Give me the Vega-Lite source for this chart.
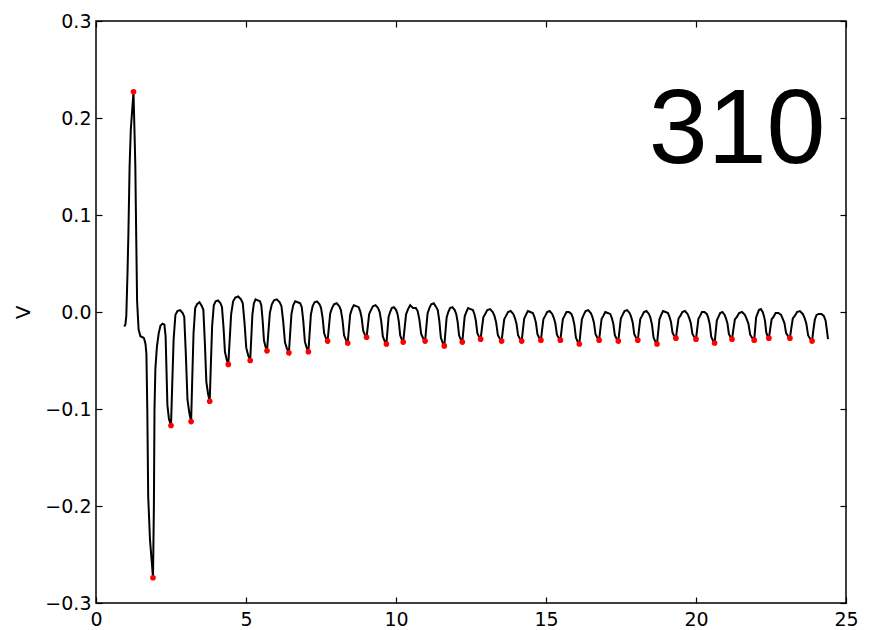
{
  "$schema": "https://vega.github.io/schema/vega-lite/v6.json",
  "width": 750,
  "height": 582,
  "autosize": {"type": "none"},
  "padding": {"left": 96, "top": 21, "right": 48, "bottom": 27},
  "background": "white",
  "config": {
    "view": {"stroke": "#000000", "strokeWidth": 1.5},
    "font": "DejaVu Sans",
    "axis": {
      "grid": false,
      "domain": false,
      "ticks": true,
      "tickColor": "#000000",
      "tickSize": -6,
      "tickWidth": 1.2,
      "labelFont": "DejaVu Sans",
      "labelFontSize": 19,
      "labelColor": "#000000",
      "titleFont": "DejaVu Sans",
      "titleFontSize": 20,
      "titleFontWeight": "normal",
      "titleColor": "#000000"
    }
  },
  "datasets": {
    "wave": [
      {"t":0.94,"v":-0.015},{"t":0.98,"v":-0.013},{"t":1.01,"v":-0.004},{"t":1.05,"v":0.04},{"t":1.08,"v":0.081},{"t":1.12,"v":0.15},{"t":1.16,"v":0.188},{"t":1.21,"v":0.21},{"t":1.25,"v":0.227},{"t":1.28,"v":0.19},{"t":1.31,"v":0.152},{"t":1.34,"v":0.08},{"t":1.37,"v":0.011},{"t":1.42,"v":-0.018},{"t":1.48,"v":-0.025},{"t":1.55,"v":-0.026},{"t":1.60,"v":-0.027},{"t":1.65,"v":-0.033},{"t":1.68,"v":-0.043},{"t":1.71,"v":-0.1},{"t":1.74,"v":-0.19},{"t":1.80,"v":-0.235},{"t":1.86,"v":-0.258},{"t":1.90,"v":-0.274},{"t":1.93,"v":-0.2},{"t":1.95,"v":-0.1},{"t":1.98,"v":-0.058},{"t":2.03,"v":-0.036},{"t":2.09,"v":-0.022},{"t":2.15,"v":-0.014},{"t":2.22,"v":-0.012},{"t":2.28,"v":-0.013},{"t":2.32,"v":-0.025},{"t":2.35,"v":-0.06},{"t":2.38,"v":-0.096},{"t":2.43,"v":-0.11},{"t":2.47,"v":-0.114},
      {"t":2.50,"v":-0.117},{"t":2.54,"v":-0.0757},{"t":2.587,"v":-0.0285},{"t":2.647,"v":-0.003},{"t":2.714,"v":0.001},{"t":2.802,"v":0.002},{"t":2.889,"v":-0.001},{"t":2.942,"v":-0.005},{"t":2.996,"v":-0.0446},{"t":3.049,"v":-0.0902},{"t":3.11,"v":-0.1039},
      {"t":3.17,"v":-0.113},{"t":3.207,"v":-0.0706},{"t":3.251,"v":-0.0222},{"t":3.306,"v":0.004},{"t":3.368,"v":0.008},{"t":3.449,"v":0.010},{"t":3.530,"v":0.006},{"t":3.579,"v":0.002},{"t":3.629,"v":-0.032},{"t":3.678,"v":-0.072},{"t":3.734,"v":-0.084},
      {"t":3.79,"v":-0.092},{"t":3.827,"v":-0.056},{"t":3.871,"v":-0.0147},{"t":3.926,"v":0.007},{"t":3.988,"v":0.011},{"t":4.069,"v":0.012},{"t":4.150,"v":0.009},{"t":4.199,"v":0.005},{"t":4.249,"v":-0.015},{"t":4.298,"v":-0.041},{"t":4.354,"v":-0.0488},
      {"t":4.41,"v":-0.054},{"t":4.454,"v":-0.0298},{"t":4.505,"v":-0.0022},{"t":4.571,"v":0.011},{"t":4.644,"v":0.015},{"t":4.739,"v":0.016},{"t":4.833,"v":0.013},{"t":4.892,"v":0.009},{"t":4.950,"v":-0.011},{"t":5.009,"v":-0.037},{"t":5.074,"v":-0.0448},
      {"t":5.14,"v":-0.050},{"t":5.174,"v":-0.028},{"t":5.213,"v":-0.0027},{"t":5.263,"v":0.009},{"t":5.319,"v":0.013},{"t":5.392,"v":0.012},{"t":5.465,"v":0.011},{"t":5.510,"v":0.007},{"t":5.554,"v":-0.0082},{"t":5.599,"v":-0.0294},{"t":5.650,"v":-0.0358},
      {"t":5.70,"v":-0.040},{"t":5.744,"v":-0.0218},{"t":5.795,"v":-0.001},{"t":5.861,"v":0.008},{"t":5.934,"v":0.012},{"t":6.029,"v":0.013},{"t":6.123,"v":0.010},{"t":6.182,"v":0.006},{"t":6.240,"v":-0.0096},{"t":6.299,"v":-0.0312},{"t":6.364,"v":-0.0377},
      {"t":6.43,"v":-0.042},{"t":6.469,"v":-0.0234},{"t":6.515,"v":-0.0022},{"t":6.573,"v":0.007},{"t":6.638,"v":0.011},{"t":6.723,"v":0.010},{"t":6.807,"v":0.009},{"t":6.859,"v":0.005},{"t":6.911,"v":-0.0098},{"t":6.963,"v":-0.0306},{"t":7.022,"v":-0.0368},
      {"t":7.08,"v":-0.041},{"t":7.118,"v":-0.0231},{"t":7.163,"v":-0.0027},{"t":7.221,"v":0.006},{"t":7.285,"v":0.010},{"t":7.368,"v":0.011},{"t":7.451,"v":0.008},{"t":7.502,"v":0.004},{"t":7.554,"v":-0.006},{"t":7.605,"v":-0.022},{"t":7.662,"v":-0.0268},
      {"t":7.72,"v":-0.030},{"t":7.760,"v":-0.0167},{"t":7.807,"v":-0.0015},{"t":7.867,"v":0.004},{"t":7.934,"v":0.008},{"t":8.022,"v":0.009},{"t":8.109,"v":0.006},{"t":8.162,"v":0.002},{"t":8.216,"v":-0.008},{"t":8.269,"v":-0.024},{"t":8.330,"v":-0.0288},
      {"t":8.39,"v":-0.032},{"t":8.428,"v":-0.0183},{"t":8.472,"v":-0.0027},{"t":8.529,"v":0.003},{"t":8.592,"v":0.007},{"t":8.674,"v":0.006},{"t":8.755,"v":0.005},{"t":8.806,"v":0.001},{"t":8.856,"v":-0.0062},{"t":8.907,"v":-0.0194},{"t":8.963,"v":-0.0234},
      {"t":9.02,"v":-0.026},{"t":9.060,"v":-0.0148},{"t":9.106,"v":-0.002},{"t":9.165,"v":0.002},{"t":9.231,"v":0.006},{"t":9.317,"v":0.007},{"t":9.403,"v":0.004},{"t":9.456,"v":0.000},{"t":9.508,"v":-0.0096},{"t":9.561,"v":-0.0252},{"t":9.621,"v":-0.0299},
      {"t":9.68,"v":-0.033},{"t":9.714,"v":-0.020},{"t":9.753,"v":-0.0052},{"t":9.803,"v":0.000},{"t":9.859,"v":0.004},{"t":9.932,"v":0.005},{"t":10.005,"v":0.002},{"t":10.050,"v":-0.002},{"t":10.094,"v":-0.010},{"t":10.139,"v":-0.024},{"t":10.190,"v":-0.0282},
      {"t":10.24,"v":-0.031},{"t":10.284,"v":-0.0177},{"t":10.335,"v":-0.0025},{"t":10.401,"v":0.003},{"t":10.474,"v":0.007},{"t":10.569,"v":0.004},{"t":10.663,"v":0.004},{"t":10.722,"v":0.001},{"t":10.780,"v":-0.0078},{"t":10.839,"v":-0.0226},{"t":10.904,"v":-0.027},
      {"t":10.97,"v":-0.030},{"t":11.008,"v":-0.0167},{"t":11.053,"v":-0.0015},{"t":11.111,"v":0.004},{"t":11.175,"v":0.008},{"t":11.258,"v":0.009},{"t":11.341,"v":0.005},{"t":11.392,"v":0.002},{"t":11.444,"v":-0.0092},{"t":11.495,"v":-0.0264},{"t":11.552,"v":-0.0316},
      {"t":11.61,"v":-0.035},{"t":11.646,"v":-0.0213},{"t":11.688,"v":-0.0057},{"t":11.742,"v":0.000},{"t":11.802,"v":0.004},{"t":11.880,"v":0.005},{"t":11.958,"v":0.002},{"t":12.006,"v":-0.002},{"t":12.054,"v":-0.010},{"t":12.102,"v":-0.024},{"t":12.156,"v":-0.0282},
      {"t":12.21,"v":-0.031},{"t":12.247,"v":-0.0187},{"t":12.289,"v":-0.0047},{"t":12.344,"v":0.000},{"t":12.405,"v":0.004},{"t":12.485,"v":0.003},{"t":12.564,"v":0.002},{"t":12.613,"v":-0.002},{"t":12.661,"v":-0.0088},{"t":12.710,"v":-0.0216},{"t":12.765,"v":-0.0254},
      {"t":12.82,"v":-0.028},{"t":12.862,"v":-0.0175},{"t":12.911,"v":-0.0055},{"t":12.974,"v":-0.002},{"t":13.044,"v":0.002},{"t":13.135,"v":0.003},{"t":13.226,"v":0.000},{"t":13.282,"v":-0.004},{"t":13.338,"v":-0.0108},{"t":13.394,"v":-0.0236},{"t":13.457,"v":-0.0274},
      {"t":13.52,"v":-0.030},{"t":13.560,"v":-0.0195},{"t":13.607,"v":-0.0075},{"t":13.667,"v":-0.004},{"t":13.734,"v":0.000},{"t":13.822,"v":0.001},{"t":13.909,"v":-0.002},{"t":13.962,"v":-0.006},{"t":14.016,"v":-0.012},{"t":14.069,"v":-0.024},{"t":14.130,"v":-0.0276},
      {"t":14.19,"v":-0.030},{"t":14.228,"v":-0.0191},{"t":14.273,"v":-0.0067},{"t":14.331,"v":-0.003},{"t":14.395,"v":0.001},{"t":14.478,"v":0.000},{"t":14.561,"v":-0.001},{"t":14.612,"v":-0.005},{"t":14.664,"v":-0.011},{"t":14.715,"v":-0.023},{"t":14.772,"v":-0.0266},
      {"t":14.83,"v":-0.029},{"t":14.869,"v":-0.0188},{"t":14.915,"v":-0.0072},{"t":14.973,"v":-0.004},{"t":15.038,"v":0.000},{"t":15.123,"v":0.001},{"t":15.207,"v":-0.002},{"t":15.259,"v":-0.006},{"t":15.311,"v":-0.0116},{"t":15.363,"v":-0.0232},{"t":15.422,"v":-0.0267},
      {"t":15.48,"v":-0.029},{"t":15.518,"v":-0.0188},{"t":15.562,"v":-0.0072},{"t":15.619,"v":-0.004},{"t":15.682,"v":0.000},{"t":15.764,"v":0.000},{"t":15.845,"v":-0.002},{"t":15.896,"v":-0.006},{"t":15.946,"v":-0.0132},{"t":15.997,"v":-0.0264},{"t":16.053,"v":-0.0304},
      {"t":16.11,"v":-0.033},{"t":16.150,"v":-0.0211},{"t":16.196,"v":-0.0075},{"t":16.255,"v":-0.003},{"t":16.321,"v":0.001},{"t":16.407,"v":0.002},{"t":16.493,"v":-0.001},{"t":16.546,"v":-0.005},{"t":16.598,"v":-0.011},{"t":16.651,"v":-0.023},{"t":16.711,"v":-0.0266},
      {"t":16.77,"v":-0.029},{"t":16.808,"v":-0.0188},{"t":16.853,"v":-0.0072},{"t":16.911,"v":-0.004},{"t":16.975,"v":0.000},{"t":17.058,"v":-0.001},{"t":17.141,"v":-0.002},{"t":17.192,"v":-0.006},{"t":17.244,"v":-0.012},{"t":17.295,"v":-0.024},{"t":17.352,"v":-0.0276},
      {"t":17.41,"v":-0.030},{"t":17.449,"v":-0.0191},{"t":17.495,"v":-0.0067},{"t":17.553,"v":-0.003},{"t":17.618,"v":0.001},{"t":17.703,"v":0.002},{"t":17.787,"v":-0.001},{"t":17.839,"v":-0.005},{"t":17.891,"v":-0.011},{"t":17.943,"v":-0.023},{"t":18.002,"v":-0.0266},
      {"t":18.06,"v":-0.029},{"t":18.098,"v":-0.0188},{"t":18.143,"v":-0.0072},{"t":18.201,"v":-0.004},{"t":18.265,"v":0.000},{"t":18.348,"v":0.001},{"t":18.431,"v":-0.002},{"t":18.482,"v":-0.006},{"t":18.534,"v":-0.0132},{"t":18.585,"v":-0.0264},{"t":18.642,"v":-0.0304},
      {"t":18.70,"v":-0.033},{"t":18.738,"v":-0.0211},{"t":18.782,"v":-0.0075},{"t":18.839,"v":-0.003},{"t":18.902,"v":0.001},{"t":18.984,"v":0.000},{"t":19.065,"v":-0.001},{"t":19.116,"v":-0.005},{"t":19.166,"v":-0.0102},{"t":19.217,"v":-0.0214},{"t":19.273,"v":-0.0248},
      {"t":19.33,"v":-0.027},{"t":19.370,"v":-0.0175},{"t":19.417,"v":-0.0067},{"t":19.477,"v":-0.004},{"t":19.544,"v":0.000},{"t":19.632,"v":0.001},{"t":19.719,"v":-0.002},{"t":19.772,"v":-0.006},{"t":19.826,"v":-0.0112},{"t":19.879,"v":-0.0224},{"t":19.940,"v":-0.0258},
      {"t":20.00,"v":-0.028},{"t":20.037,"v":-0.0182},{"t":20.081,"v":-0.007},{"t":20.136,"v":-0.004},{"t":20.198,"v":0.000},{"t":20.279,"v":0.000},{"t":20.360,"v":-0.002},{"t":20.409,"v":-0.006},{"t":20.459,"v":-0.0128},{"t":20.508,"v":-0.0256},{"t":20.564,"v":-0.0294},
      {"t":20.62,"v":-0.032},{"t":20.655,"v":-0.0211},{"t":20.695,"v":-0.0086},{"t":20.748,"v":-0.005},{"t":20.806,"v":-0.001},{"t":20.881,"v":0.000},{"t":20.956,"v":-0.003},{"t":21.003,"v":-0.007},{"t":21.049,"v":-0.0118},{"t":21.096,"v":-0.0226},{"t":21.148,"v":-0.0258},
      {"t":21.20,"v":-0.028},{"t":21.244,"v":-0.0185},{"t":21.296,"v":-0.0077},{"t":21.363,"v":-0.005},{"t":21.437,"v":-0.001},{"t":21.533,"v":0.000},{"t":21.629,"v":-0.003},{"t":21.688,"v":-0.007},{"t":21.748,"v":-0.0122},{"t":21.807,"v":-0.0234},{"t":21.873,"v":-0.0268},
      {"t":21.94,"v":-0.029},{"t":21.969,"v":-0.0181},{"t":22.004,"v":-0.0056},{"t":22.048,"v":-0.002},{"t":22.097,"v":0.002},{"t":22.161,"v":0.003},{"t":22.224,"v":0.000},{"t":22.263,"v":-0.004},{"t":22.303,"v":-0.0096},{"t":22.342,"v":-0.0212},{"t":22.386,"v":-0.0247},
      {"t":22.43,"v":-0.027},{"t":22.472,"v":-0.0179},{"t":22.521,"v":-0.0075},{"t":22.584,"v":-0.005},{"t":22.654,"v":-0.001},{"t":22.745,"v":-0.001},{"t":22.836,"v":-0.003},{"t":22.892,"v":-0.007},{"t":22.948,"v":-0.0114},{"t":23.004,"v":-0.0218},{"t":23.067,"v":-0.0249},
      {"t":23.13,"v":-0.027},{"t":23.174,"v":-0.0175},{"t":23.226,"v":-0.0067},{"t":23.293,"v":-0.004},{"t":23.367,"v":0.000},{"t":23.463,"v":0.001},{"t":23.559,"v":-0.002},{"t":23.618,"v":-0.006},{"t":23.678,"v":-0.012},{"t":23.737,"v":-0.024},{"t":23.803,"v":-0.0276},
      {"t":23.87,"v":-0.030},{"t":23.91,"v":-0.019},{"t":23.96,"v":-0.008},{"t":24.02,"v":-0.003},{"t":24.09,"v":-0.002},{"t":24.18,"v":-0.002},{"t":24.26,"v":-0.004},{"t":24.32,"v":-0.009},{"t":24.36,"v":-0.018},{"t":24.40,"v":-0.028}
    ],
    "dots": [
      {"t":1.25,"v":0.227},{"t":1.90,"v":-0.274},{"t":2.50,"v":-0.117},{"t":3.17,"v":-0.113},{"t":3.79,"v":-0.092},{"t":4.41,"v":-0.054},{"t":5.14,"v":-0.050},{"t":5.70,"v":-0.040},{"t":6.43,"v":-0.042},{"t":7.08,"v":-0.041},{"t":7.72,"v":-0.030},{"t":8.39,"v":-0.032},{"t":9.02,"v":-0.026},{"t":9.68,"v":-0.033},{"t":10.24,"v":-0.031},{"t":10.97,"v":-0.030},{"t":11.61,"v":-0.035},{"t":12.21,"v":-0.031},{"t":12.82,"v":-0.028},{"t":13.52,"v":-0.030},{"t":14.19,"v":-0.030},{"t":14.83,"v":-0.029},{"t":15.48,"v":-0.029},{"t":16.11,"v":-0.033},{"t":16.77,"v":-0.029},{"t":17.41,"v":-0.030},{"t":18.06,"v":-0.029},{"t":18.70,"v":-0.033},{"t":19.33,"v":-0.027},{"t":20.00,"v":-0.028},{"t":20.62,"v":-0.032},{"t":21.20,"v":-0.028},{"t":21.94,"v":-0.029},{"t":22.43,"v":-0.027},{"t":23.13,"v":-0.027},{"t":23.87,"v":-0.030}
    ],
    "label": [{"t": 21.37, "v": 0.154, "text": "310"}]
  },
  "layer": [
    {
      "data": {"name": "wave"},
      "mark": {"type": "line", "color": "#000000", "strokeWidth": 2, "clip": true},
      "encoding": {
        "x": {"field": "t", "type": "quantitative", "scale": {"domain": [0, 25], "nice": false, "zero": false},
              "axis": {"orient": "bottom", "values": [0, 5, 10, 15, 20, 25], "format": "d", "title": null, "labelPadding": 13, "labelFlush": false}},
        "y": {"field": "v", "type": "quantitative", "scale": {"domain": [-0.3, 0.3], "nice": false, "zero": false},
              "axis": {"orient": "left", "values": [-0.3, -0.2, -0.1, 0, 0.1, 0.2, 0.3], "format": ".1f", "title": "V", "labelPadding": 11, "labelFlush": false,
                       "titleX": -73, "titleY": 291, "titleAngle": -90, "titleAlign": "center", "titleBaseline": "middle"}}
      }
    },
    {
      "data": {"name": "dots"},
      "mark": {"type": "circle", "color": "#ff0000", "opacity": 1, "size": 32},
      "encoding": {
        "x": {"field": "t", "type": "quantitative", "axis": {"orient": "top", "values": [0, 5, 10, 15, 20, 25], "labels": false, "title": null}},
        "y": {"field": "v", "type": "quantitative", "axis": {"orient": "right", "values": [-0.3, -0.2, -0.1, 0, 0.1, 0.2, 0.3], "labels": false, "title": null}}
      }
    },
    {
      "data": {"name": "label"},
      "mark": {"type": "text", "font": "Liberation Sans", "fontSize": 106, "align": "center", "baseline": "alphabetic", "color": "#000000"},
      "encoding": {
        "x": {"field": "t", "type": "quantitative", "axis": null},
        "y": {"field": "v", "type": "quantitative", "axis": null},
        "text": {"field": "text"}
      }
    }
  ],
  "resolve": {"axis": {"x": "independent", "y": "independent"}}
}
